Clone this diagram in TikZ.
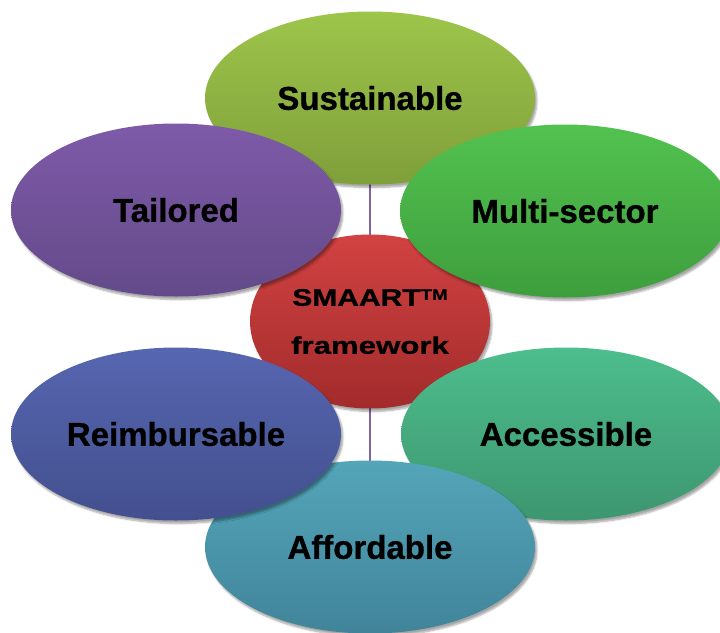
\documentclass[tikz,border=0pt]{standalone}
\usepackage{fontspec}
\newfontfamily\lbl{Liberation Sans Bold}[FakeBold=0.8]
\usetikzlibrary{shapes.geometric,shadows.blur,backgrounds}

% gradient colours of the petals
\definecolor{susT}{HTML}{9DC54A}\definecolor{susB}{HTML}{7F9F3A}
\definecolor{mulT}{HTML}{52C24F}\definecolor{mulB}{HTML}{3E9E3D}
\definecolor{accT}{HTML}{4DBE8D}\definecolor{accB}{HTML}{3D9670}
\definecolor{affT}{HTML}{54A5B9}\definecolor{affB}{HTML}{41849A}
\definecolor{reiT}{HTML}{5666B0}\definecolor{reiB}{HTML}{434F8E}
\definecolor{taiT}{HTML}{7E5AA8}\definecolor{taiB}{HTML}{644A8A}
\definecolor{hubT}{HTML}{D24242}\definecolor{hubB}{HTML}{A22B2B}
\definecolor{spoke}{HTML}{8064A2}

\tikzset{
  petal/.style n args={2}{ellipse, inner sep=0pt, minimum width=330pt,
    minimum height=173pt, top color=#1, bottom color=#2,
    blur shadow={shadow xshift=2pt, shadow yshift=-3pt, shadow blur steps=6,
      shadow opacity=35},
    font=\lbl\fontsize{33}{36}\selectfont, text=black},
  hub/.style={ellipse, inner sep=0pt, minimum width=240pt, minimum height=174pt,
    top color=hubT, bottom color=hubB, align=center,
    blur shadow={shadow xshift=2pt, shadow yshift=-3pt, shadow blur steps=6,
      shadow opacity=35},
    font=\lbl\fontsize{24}{48}\selectfont, text=black},
  spokeline/.style={draw=spoke, line width=1.5pt}
}

\begin{document}
\begin{tikzpicture}[x=1pt,y=-1pt]
\useasboundingbox (0,0) rectangle (720,632);

% centre of the cycle
\node[hub] (hub) at (370,321.5)
  {\scalebox{1.25}[1]{SMAART\raisebox{6pt}{\fontsize{15}{15}\selectfont TM}}\\
   \scalebox{1.3}[1]{framework}};

% the six petals, each overlapping the previous one
\node[petal={susT}{susB}] (sus) at (370,98)  {Sustainable};
\node[petal={mulT}{mulB}] (mul) at (565,211) {Multi-sector};
\node[petal={accT}{accB}] (acc) at (566,434) {Accessible};
\node[petal={affT}{affB}] (aff) at (370,547) {Affordable};
\node[petal={reiT}{reiB}] (rei) at (176,434) {Reimbursable};
\node[petal={taiT}{taiB}] (tai) at (176,210) {Tailored};

% vertical spoke behind everything
\begin{scope}[on background layer]
  \draw[spokeline] (sus.center) -- (aff.center);
\end{scope}
\end{tikzpicture}
\end{document}
